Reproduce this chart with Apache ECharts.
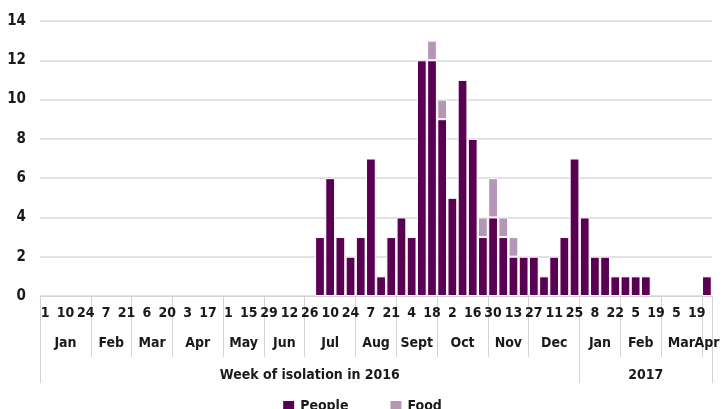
<!DOCTYPE html>
<html>
<head>
<meta charset="utf-8">
<script src="https://cdn.jsdelivr.net/npm/echarts@6/dist/echarts.min.js"></script>
<style>
  html, body { margin: 0; padding: 0; background: #fff; }
  #div_chart { width: 723px; height: 409px; }
</style>
</head>
<body>
<div id="div_chart"></div>
<script>
// week tick labels (every other week shown)
var weekLabels = ['1', '', '10', '', '24', '', '7', '', '21', '', '6', '', '20', '', '3', '', '17', '',
    '1', '', '15', '', '29', '', '12', '', '26', '', '10', '', '24', '', '7', '', '21', '',
    '4', '', '18', '', '2', '', '16', '', '30', '', '13', '', '27', '', '11', '', '25', '',
    '8', '', '22', '', '5', '', '19', '', '5', '', '19', ''];

var people = [0, 0, 0, 0, 0, 0, 0, 0, 0, 0, 0, 0, 0, 0, 0, 0, 0, 0, 0, 0, 0, 0, 0, 0, 0, 0, 0,
    3, 6, 3, 2, 3, 7, 1, 3, 4, 3, 12, 12, 9, 5, 11, 8, 3, 4, 3, 2, 2, 2, 1, 2, 3, 7, 4, 2, 2,
    1, 1, 1, 1, 0, 0, 0, 0, 0, 1];
var food = [0, 0, 0, 0, 0, 0, 0, 0, 0, 0, 0, 0, 0, 0, 0, 0, 0, 0, 0, 0, 0, 0, 0, 0, 0, 0, 0,
    0, 0, 0, 0, 0, 0, 0, 0, 0, 0, 0, 1, 1, 0, 0, 0, 1, 2, 1, 1, 0, 0, 0, 0, 0, 0, 0, 0, 0,
    0, 0, 0, 0, 0, 0, 0, 0, 0, 0];

var monthNames = ['Jan', 'Feb', 'Mar', 'Apr', 'May', 'Jun', 'Jul', 'Aug', 'Sept', 'Oct', 'Nov', 'Dec',
    'Jan', 'Feb', 'Mar', 'Apr'];
var monthWeeks = [5, 4, 4, 5, 4, 4, 5, 4, 4, 5, 4, 5, 4, 4, 4, 1];

var yearNames = ['Week of isolation in 2016', '2017'];
var yearWeeks = [53, 13];

var yTicks = [0, 2, 4, 6, 8, 10, 12, 14];

var FONT = "'Liberation Sans Narrow', 'DejaVu Sans Condensed', sans-serif";

// boundaries / centres of the group rows
var groups = function (counts, names) {
    var edges = [0], centres = [], lookup = {};
    var pos = 0;
    counts.forEach(function (n, i) {
        centres.push(pos + n / 2);
        lookup[pos + n / 2] = names[i];
        pos += n;
        edges.push(pos);
    });
    return { edges: edges, centres: centres, lookup: lookup, total: pos };
};

var initChart = function () {
    var myChart = echarts.init(document.getElementById('div_chart'));
    var months = groups(monthWeeks, monthNames);
    var years = groups(yearWeeks, yearNames);
    var cats = weekLabels.map(function (l, i) { return 'w' + i; });
    var noZero = function (v) { return v === 0 ? '-' : v; };

    // value axis used only for group labels / long separator ticks
    // parity splits the labels over two axes so neighbours never get auto-hidden
    var groupAxis = function (g, tickLen, margin, parity) {
        var centres = g.centres.filter(function (c, i) {
            return parity === undefined || i % 2 === parity;
        });
        return {
            type: 'value',
            position: 'bottom',
            min: 0,
            max: g.total,
            axisLine: { show: false },
            splitLine: { show: false },
            axisTick: {
                show: parity !== 1,
                customValues: g.edges,
                length: tickLen,
                lineStyle: { color: '#d4d4d4', width: 1 }
            },
            axisLabel: {
                customValues: centres,
                margin: margin,
                showMinLabel: true,
                showMaxLabel: true,
                hideOverlap: false,
                color: '#1a1a1a',
                fontFamily: FONT,
                fontWeight: 'bold',
                fontSize: 14,
                formatter: function (v) { return g.lookup[v] || ''; }
            }
        };
    };

    var option = {
        animation: false,
        grid: { left: 40, right: 11, top: 21, bottom: 113, containLabel: false },
        legend: {
            bottom: -10,
            left: 'center',
            itemWidth: 13,
            itemHeight: 13,
            itemGap: 40,
            icon: 'rect',
            textStyle: { fontFamily: FONT, fontWeight: 'bold', fontSize: 14, color: '#1a1a1a' },
            data: ['People', 'Food']
        },
        xAxis: [
            {
                type: 'category',
                data: cats,
                boundaryGap: true,
                axisLine: { lineStyle: { color: '#d4d4d4', width: 1 } },
                axisTick: { interval: 0, length: 29, lineStyle: { color: '#d4d4d4' } },
                axisLabel: {
                    interval: 0,
                    margin: 10,
                    color: '#1a1a1a',
                    fontFamily: FONT,
                    fontWeight: 'bold',
                    fontSize: 14,
                    formatter: function (v, i) { return weekLabels[i]; }
                }
            },
            groupAxis(months, 61, 40, 0),
            groupAxis(months, 61, 40, 1),
            groupAxis(years, 87, 72)
        ],
        yAxis: {
            type: 'value',
            min: yTicks[0],
            max: yTicks[yTicks.length - 1],
            interval: 2,
            axisLine: { show: false },
            axisTick: { show: false },
            axisLabel: {
                margin: 14,
                color: '#1a1a1a',
                fontFamily: FONT,
                fontWeight: 'bold',
                fontSize: 15
            },
            splitLine: { lineStyle: { color: '#d9d9d9', width: 1.5 } }
        },
        series: [
            {
                name: 'People',
                type: 'bar',
                stack: 'all',
                barCategoryGap: '4%',
                itemStyle: { color: '#590052', borderColor: '#fff', borderWidth: 1 },
                data: people.map(noZero)
            },
            {
                name: 'Food',
                type: 'bar',
                stack: 'all',
                barCategoryGap: '4%',
                itemStyle: { color: '#b497b7', borderColor: '#fff', borderWidth: 1 },
                data: food.map(noZero)
            }
        ]
    };
    myChart.setOption(option);
};

initChart();
</script>
</body>
</html>
